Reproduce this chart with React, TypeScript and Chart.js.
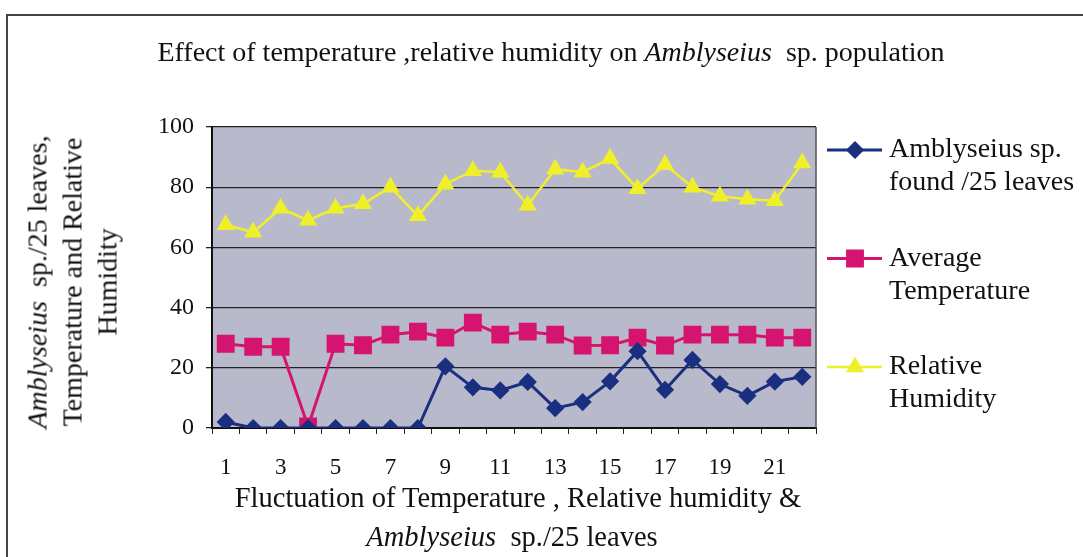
import React, { useEffect, useRef } from 'react';
import { Chart, registerables } from 'chart.js';
import { drawPoint } from 'chart.js/helpers';

Chart.register(...registerables);

const categories = ['1', '2', '3', '4', '5', '6', '7', '8', '9', '10', '11', '12', '13', '14', '15', '16', '17', '18', '19', '20', '21', '22'];
const amblyseius = [2, 0, 0, 0, 0, 0, 0, 0, 20.5, 13.5, 12.5, 15.3, 6.6, 8.6, 15.5, 25.5, 12.7, 22.6, 14.6, 10.7, 15.4, 17];
const avgTemperature = [28, 27, 27, 0.5, 28, 27.5, 31, 32, 30, 35, 31, 32, 31, 27.4, 27.5, 30, 27.4, 31, 31, 31, 30, 30];
const relHumidity = [67.5, 65, 73, 69, 73, 74.5, 80, 70.5, 81, 85.5, 85, 74, 86, 85, 89.5, 79.5, 87.5, 80, 77, 76, 75.5, 88];
const yTickValues = [0, 20, 40, 60, 80, 100];
const legendLines = [['Amblyseius sp.', 'found /25 leaves'], ['Average', 'Temperature'], ['Relative', 'Humidity']];
const seriesLabels = ['Amblyseius sp. found /25 leaves', 'Average Temperature', 'Relative Humidity'];

const SERIF = '"Liberation Serif", "Times New Roman", serif';

const plotDecor = {
  id: 'plotDecor',
  beforeDraw(chart: any) {
    const { ctx, chartArea: a } = chart;
    ctx.save();
    ctx.fillStyle = '#b9b9cc';
    ctx.fillRect(a.left, a.top, a.right - a.left, a.bottom - a.top);
    ctx.restore();
  },
  afterDraw(chart: any) {
    const { ctx, chartArea: a } = chart;
    ctx.save();
    ctx.strokeStyle = '#555';
    ctx.lineWidth = 1.5;
    ctx.beginPath();
    ctx.moveTo(a.right, a.top);
    ctx.lineTo(a.right, a.bottom);
    ctx.stroke();
    // legend
    chart.data.datasets.forEach((ds: any, i: number) => {
      const y = 150 + i * 108.5;
      ctx.strokeStyle = ds.borderColor;
      ctx.lineWidth = ds.borderWidth;
      ctx.beginPath();
      ctx.moveTo(827, y);
      ctx.lineTo(882, y);
      ctx.stroke();
      ctx.fillStyle = ds.pointBackgroundColor;
      ctx.strokeStyle = ds.pointBorderColor;
      drawPoint(ctx, { pointStyle: ds.pointStyle, radius: ds.pointRadius, borderWidth: 1, rotation: 0 }, 855, y);
      ctx.fillStyle = '#111';
      ctx.font = `28px ${SERIF}`;
      ctx.textBaseline = 'middle';
      ctx.textAlign = 'left';
      legendLines[i].forEach((t, j) => ctx.fillText(t, 889, y + j * 33));
    });
    ctx.restore();
  },
};

export default function App() {
  const ref = useRef<HTMLCanvasElement | null>(null);
  useEffect(() => {
    if (!ref.current) return;
    const chart = new Chart(ref.current, {
      type: 'line',
      data: {
        labels: categories,
        datasets: [
          {
            label: seriesLabels[0],
            data: amblyseius,
            borderColor: '#1b2f80',
            backgroundColor: '#1b2f80',
            pointBackgroundColor: '#1b2f80',
            pointBorderColor: '#1b2f80',
            pointStyle: 'rectRot',
            pointRadius: 7,
            borderWidth: 3,
          },
          {
            label: seriesLabels[1],
            data: avgTemperature,
            borderColor: '#d4146e',
            backgroundColor: '#d4146e',
            pointBackgroundColor: '#d4146e',
            pointBorderColor: '#d4146e',
            pointStyle: 'rect',
            pointRadius: 10.5,
            borderWidth: 3,
          },
          {
            label: seriesLabels[2],
            data: relHumidity,
            borderColor: '#f0f02a',
            backgroundColor: '#f0f02a',
            pointBackgroundColor: '#f0f02a',
            pointBorderColor: '#f0f02a',
            pointStyle: 'triangle',
            pointRadius: 8,
            borderWidth: 2.5,
          },
        ],
      } as any,
      options: {
        animation: false,
        responsive: false,
        maintainAspectRatio: false,
        layout: { padding: { left: 152, right: 267, top: 127, bottom: 69 } },
        plugins: { legend: { display: false }, title: { display: false }, tooltip: { enabled: false } },
        elements: { line: { tension: 0 } },
        scales: {
          x: {
            type: 'category',
            offset: true,
            afterFit: (s: any) => { s.height = 60; },
            grid: { offset: true, drawOnChartArea: false, drawTicks: true, tickLength: 6, color: '#222', lineWidth: 1 },
            border: { color: '#111', width: 2 },
            ticks: {
              autoSkip: false,
              maxRotation: 0,
              color: '#111',
              padding: 20,
              font: { family: SERIF, size: 23 },
              callback: (_v: any, i: number) => (i % 2 === 0 ? categories[i] : ''),
            },
          },
          y: {
            min: 0,
            max: 100,
            afterFit: (s: any) => { s.width = 60; },
            afterBuildTicks: (s: any) => { s.ticks = yTickValues.map((v) => ({ value: v })); },
            grid: { color: '#222', lineWidth: 1.3, tickLength: 6 },
            border: { color: '#111', width: 2 },
            ticks: { color: '#111', padding: 12, font: { family: SERIF, size: 24 } },
          },
        },
      },
      plugins: [plotDecor],
    });
    return () => chart.destroy();
  }, []);

  const textBase: React.CSSProperties = { position: 'absolute', fontFamily: SERIF, color: '#111', whiteSpace: 'nowrap' };

  return (
    <div style={{ position: 'absolute', left: 0, top: 0, width: 1083, height: 557, background: '#fff', overflow: 'hidden' }}>
      <div style={{ position: 'absolute', left: 6, top: 14, width: 1100, height: 600, borderTop: '2px solid #444', borderLeft: '2px solid #444' }} />
      <canvas ref={ref} width={1083} height={557} style={{ position: 'absolute', left: 0, top: 0, width: 1083, height: 557 }} />
      <div style={{ ...textBase, left: 551, top: 36, fontSize: 28, lineHeight: '32px', transform: 'translateX(-50%)' }}>
        Effect of temperature ,relative humidity on <i>Amblyseius</i>&nbsp; sp. population
      </div>
      <div style={{ ...textBase, left: 518, top: 482, fontSize: 28.5, lineHeight: '32px', transform: 'translateX(-50%)' }}>
        Fluctuation of Temperature , Relative humidity &amp;
      </div>
      <div style={{ ...textBase, left: 512, top: 521, fontSize: 28.5, lineHeight: '32px', transform: 'translateX(-50%)' }}>
        <i>Amblyseius</i>&nbsp; sp./25 leaves
      </div>
      <div style={{ ...textBase, left: 72, top: 282, fontSize: 28, lineHeight: '35px', textAlign: 'center', transform: 'translate(-50%, -50%) rotate(-90deg)' }}>
        <i>Amblyseius</i>&nbsp; sp./25 leaves,<br />Temperature and Relative<br />Humidity
      </div>
    </div>
  );
}
